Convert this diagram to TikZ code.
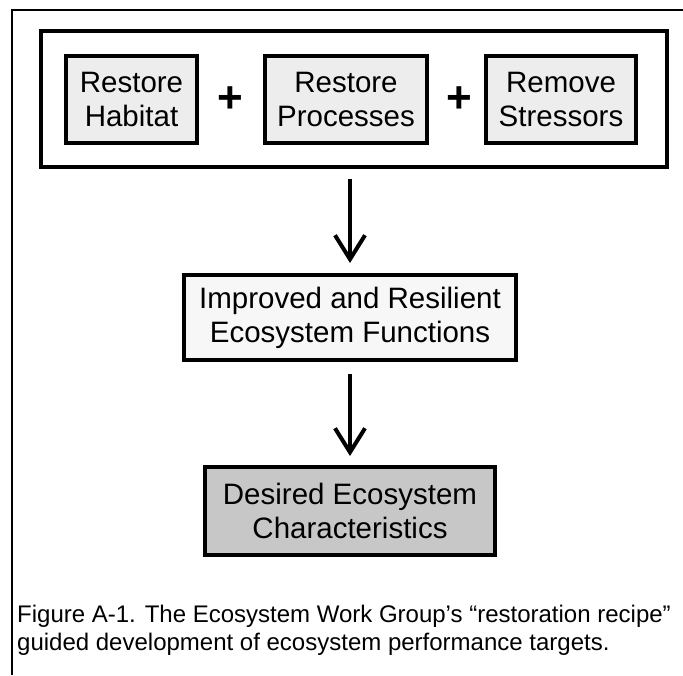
\documentclass[tikz,border=0pt]{standalone}
\usepackage{fontspec}
\setmainfont{Liberation Sans}
\usetikzlibrary{arrows.meta,calc}
\begin{document}
\begin{tikzpicture}[x=1pt,y=-1pt,
  box/.style={draw=black, line width=4pt, inner sep=0pt, align=center,
    font=\fontsize{29.5}{34}\selectfont},
  plainbox/.style={box, fill=black!7},
  darkbox/.style={box, fill=black!22},
  plussign/.style={inner sep=0pt, font=\fontsize{44}{44}\bfseries},
  arr/.style={line width=4pt, -{Straight Barb[length=24pt,width=30pt]}},
]
\useasboundingbox (0,0) rectangle (683,675);
% outer frame (partial)
\draw[line width=1.6pt] (12,675) -- (12,10) -- (683,10);
% group box
\node[draw=black, line width=4pt, minimum width=626pt, minimum height=136pt, inner sep=0pt] (group) at (354,99) {};
\node[plainbox, minimum width=131pt, minimum height=87pt] (habitat) at (131.5,99.5) {Restore\\Habitat};
\node[plussign] (plus1) at (230,100) {+};
\node[plainbox, minimum width=162pt, minimum height=87pt] (processes) at (346,99.5) {Restore\\Processes};
\node[plussign] (plus2) at (459,100) {+};
\node[plainbox, minimum width=150pt, minimum height=87pt] (stressors) at (561,99.5) {Remove\\Stressors};
% middle
\node[plainbox, fill=black!3, minimum width=332pt, minimum height=85pt] (improved) at (350,317.5) {Improved and Resilient\\Ecosystem Functions};
\node[darkbox, minimum width=290pt, minimum height=88pt] (desired) at (350,511) {Desired Ecosystem\\Characteristics};
% arrows
\draw[arr] ($(group.south)+(-4,10)$) -- ($(improved.north)+(0,-10)$);
\draw[arr] ($(improved.south)+(0,12)$) -- ($(desired.north)+(0,-9)$);
% caption
\node[anchor=west, align=left, inner sep=0pt, font=\fontsize{24}{28}\selectfont] (caption) at (17,630)
  {Figure A-1. The Ecosystem Work Group’s “restoration recipe”\\guided development of ecosystem performance targets.};
\end{tikzpicture}
\end{document}
